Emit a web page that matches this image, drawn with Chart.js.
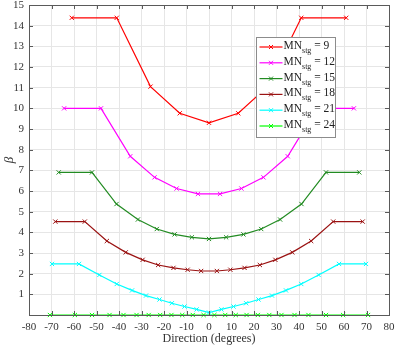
<!DOCTYPE html>
<html>
<head>
<meta charset="UTF-8" />
<title>beta vs direction</title>
<script src="https://cdn.jsdelivr.net/npm/chart.js"></script>
<style>
  html, body { margin: 0; padding: 0; background: #fff; }
  #wrap { width: 397px; height: 347px; }
</style>
</head>
<body>
<div id="wrap"><canvas id="c" width="397" height="347"></canvas></div>
<script>
// values
const mnValues = [9, 12, 15, 18, 21, 24];

const dir9  = [-61, -41, -26, -13, 0, 13, 26, 41, 61];
const beta9 = [14.38, 14.38, 11.05, 9.76, 9.3, 9.76, 11.05, 14.38, 14.38];

const dir12  = [-64.4, -48, -35, -24.2, -14.4, -4.9, 4.9, 14.4, 24.2, 35, 48, 64.4];
const beta12 = [10, 10, 7.68, 6.66, 6.12, 5.86, 5.86, 6.12, 6.66, 7.68, 10, 10];

const dir15  = [-66.8, -52, -41.1, -31.6, -23.2, -15.3, -7.6, 0, 7.6, 15.3, 23.2, 31.6, 41.1, 52, 66.8];
const beta15 = [6.9, 6.9, 5.37, 4.62, 4.16, 3.9, 3.76, 3.68, 3.76, 3.9, 4.16, 4.62, 5.37, 6.9, 6.9];

const dir18  = [-68.3, -55.2, -45.4, -37, -29.5, -22.6, -15.8, -9.5, -3.5, 3.5, 9.5, 15.8, 22.6, 29.5, 37, 45.4, 55.2, 68.3];
const beta18 = [4.52, 4.52, 3.58, 3.03, 2.67, 2.42, 2.28, 2.19, 2.13, 2.13, 2.19, 2.28, 2.42, 2.67, 3.03, 3.58, 4.52, 4.52];

const dir21  = [-69.8, -57.8, -48.7, -41, -34.2, -28, -22, -16.5, -10.9, -5.5, 0, 5.5, 10.9, 16.5, 22, 28, 34.2, 41, 48.7, 57.8, 69.8];
const beta21 = [2.47, 2.47, 1.94, 1.5, 1.19, 0.94, 0.75, 0.57, 0.41, 0.27, 0.12, 0.27, 0.41, 0.57, 0.75, 0.94, 1.19, 1.5, 1.94, 2.47, 2.47];

const dir24  = [-70.7, -59.6, -52, -44.2, -38, -32.2, -26.8, -21.7, -16.7, -11.9, -7.2, -2.4, 2.4, 7.2, 11.9, 16.7, 21.7, 26.8, 32.2, 38, 44.2, 52, 59.6, 70.7];
const beta24 = [0, 0, 0, 0, 0, 0, 0, 0, 0, 0, 0, 0, 0, 0, 0, 0, 0, 0, 0, 0, 0, 0, 0, 0];

const seriesDirs  = [dir9, dir12, dir15, dir18, dir21, dir24];
const seriesBetas = [beta9, beta12, beta15, beta18, beta21, beta24];
const colors = ['#ff0000', '#ff00ff', '#228b22', '#9a1212', '#00ffff', '#00ff00'];

const SERIF = '"Liberation Serif", "Times New Roman", serif';

const datasets = mnValues.map((mn, i) => ({
    label: 'MN_stg = ' + mn,
    mn: mn,
    data: seriesDirs[i].map((d, k) => ({x: d, y: seriesBetas[i][k]})),
    borderColor: colors[i],
    backgroundColor: colors[i],
    borderWidth: 1.2,
    pointStyle: 'crossRot',
    pointRadius: 3,
    pointBorderWidth: 1,
    tension: 0,
    clip: false
}));

// box, inward ticks and the MATLAB-like legend
const frame = {
    id: 'frame',
    afterDraw(chart) {
        const {ctx, chartArea: a, scales: {x, y}} = chart;
        ctx.save();
        ctx.strokeStyle = '#5a5a5a';
        ctx.lineWidth = 1;
        ctx.beginPath();
        x.ticks.forEach(t => {
            const px = Math.round(x.getPixelForValue(t.value)) + 0.5;
            ctx.moveTo(px, a.bottom); ctx.lineTo(px, a.bottom - 4);
            ctx.moveTo(px, a.top); ctx.lineTo(px, a.top + 4);
        });
        y.ticks.forEach(t => {
            const py = Math.round(y.getPixelForValue(t.value)) + 0.5;
            ctx.moveTo(a.left, py); ctx.lineTo(a.left + 4, py);
            ctx.moveTo(a.right, py); ctx.lineTo(a.right - 4, py);
        });
        ctx.stroke();
        ctx.strokeRect(Math.round(a.left) + 0.5, Math.round(a.top) + 0.5,
                       Math.round(a.right - a.left), Math.round(a.bottom - a.top));

        // legend
        const lx = 256.5, ly = 37.5, lw = 79, lh = 100;
        ctx.fillStyle = '#fff';
        ctx.fillRect(lx, ly, lw, lh);
        ctx.strokeStyle = '#8c8c8c';
        ctx.strokeRect(lx, ly, lw, lh);
        chart.data.datasets.forEach((ds, i) => {
            const yy = ly + 9.5 + i * 15.8;
            ctx.strokeStyle = ds.borderColor;
            ctx.lineWidth = 1.2;
            ctx.beginPath();
            ctx.moveTo(lx + 3, yy); ctx.lineTo(lx + 26, yy);
            ctx.stroke();
            ctx.lineWidth = 1;
            ctx.beginPath();
            const mx = lx + 14.5;
            ctx.moveTo(mx - 2, yy - 2); ctx.lineTo(mx + 2, yy + 2);
            ctx.moveTo(mx - 2, yy + 2); ctx.lineTo(mx + 2, yy - 2);
            ctx.stroke();

            ctx.fillStyle = '#222';
            ctx.textBaseline = 'alphabetic';
            ctx.font = '11.5px ' + SERIF;
            let tx = lx + 27;
            ctx.fillText('MN', tx, yy + 2);
            tx += ctx.measureText('MN').width;
            ctx.font = '8px ' + SERIF;
            ctx.fillText('stg', tx, yy + 6);
            tx += ctx.measureText('stg').width;
            ctx.font = '11.5px ' + SERIF;
            ctx.fillText(' = ' + ds.mn, tx, yy + 2);
        });
        ctx.restore();
    }
};

new Chart(document.getElementById('c'), {
    type: 'line',
    data: { datasets: datasets },
    options: {
        responsive: false,
        animation: false,
        devicePixelRatio: 1,
        layout: { padding: { top: 5, right: 8, left: 0, bottom: 0 } },
        plugins: { legend: { display: false }, tooltip: { enabled: false } },
        scales: {
            x: {
                type: 'linear',
                min: -80, max: 80,
                border: { display: false },
                grid: { color: '#e6e6e6', drawTicks: false },
                ticks: { stepSize: 10, padding: 6, color: '#333', font: { family: SERIF, size: 11 } },
                title: { display: true, text: 'Direction (degrees)', color: '#333',
                         font: { family: SERIF, size: 12 }, padding: { top: 0, bottom: 1 } },
                afterFit: s => { s.height = 32; s.paddingLeft = 0; s.paddingRight = 0; }
            },
            y: {
                min: 0, max: 15,
                border: { display: false },
                grid: { color: '#e6e6e6', drawTicks: false },
                ticks: { stepSize: 1, padding: 5, color: '#333', font: { family: SERIF, size: 11 },
                         callback: v => v === 0 ? '' : v },
                title: { display: true, text: 'β', color: '#333',
                         font: { family: SERIF, size: 13, style: 'italic' }, padding: { top: 2, bottom: 0 } },
                afterFit: s => { s.width = 29; s.paddingTop = 0; s.paddingBottom = 0; }
            }
        }
    },
    plugins: [frame]
});
</script>
</body>
</html>
